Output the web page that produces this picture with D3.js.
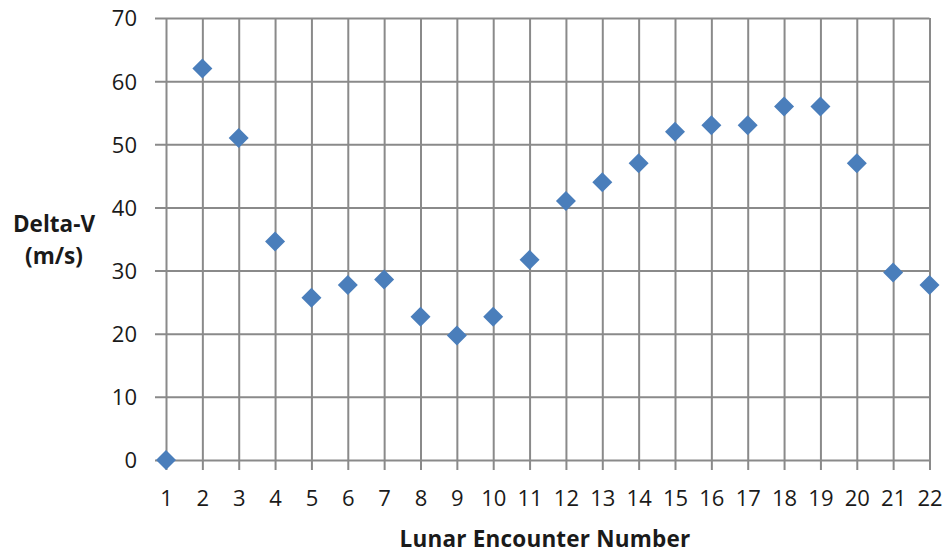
<!DOCTYPE html>
<html>
<head>
<meta charset="utf-8">
<script src="https://cdn.jsdelivr.net/npm/d3@7"></script>
<style>
  html, body { margin: 0; padding: 0; background: #fff; }
  svg { display: block; }
  text { font-family: "Open Sans", "Liberation Sans", sans-serif; fill: #1a1a1a; }
</style>
</head>
<body>
<svg id="chart" width="951" height="553"></svg>
<script>
// Data
const encounters = [1,2,3,4,5,6,7,8,9,10,11,12,13,14,15,16,17,18,19,20,21,22];
const deltaV = [0,62,51,34.6,25.7,27.7,28.6,22.7,19.7,22.7,31.7,41,44,47,52,53,53,56,56,47,29.7,27.7];
const xTicks = [1,2,3,4,5,6,7,8,9,10,11,12,13,14,15,16,17,18,19,20,21,22];
const yTicks = [0,10,20,30,40,50,60,70];
const xTitle = "Lunar Encounter Number";
const yTitleLines = ["Delta-V", "(m/s)"];

const svg = d3.select("#chart");
const x = d3.scaleLinear().domain([1, 22]).range([166, 929.5]);
const y = d3.scaleLinear().domain([0, 70]).range([460, 18]);
const gridColor = "#8a8a8a";

// Vertical gridlines + x axis ticks
const xAxis = d3.axisBottom(x).tickValues(xTicks).tickFormat(d3.format("d"))
  .tickSize(0).tickSizeOuter(0).tickPadding(0);
const gx = svg.append("g").attr("transform", "translate(0,460)").call(xAxis);
gx.select(".domain").remove();
gx.selectAll(".tick line").attr("y1", 10).attr("y2", -(460 - 18))
  .attr("stroke", gridColor).attr("stroke-width", 2);
gx.selectAll(".tick text").attr("y", 46).attr("dy", 0)
  .style("font-size", "22px").style("font-family", "'Open Sans', sans-serif").attr("fill", "#1a1a1a");

// Horizontal gridlines + y axis ticks
const yAxis = d3.axisLeft(y).tickValues(yTicks).tickSize(0).tickPadding(0);
const gy = svg.append("g").attr("transform", "translate(166,0)").call(yAxis);
gy.select(".domain").remove();
gy.selectAll(".tick line").attr("x1", -11).attr("x2", 929.5 - 166)
  .attr("stroke", gridColor).attr("stroke-width", 2);
gy.selectAll(".tick text").attr("x", -29).attr("dy", "0.36em")
  .style("font-size", "22px").style("font-family", "'Open Sans', sans-serif").attr("fill", "#1a1a1a");

// Points (diamonds)
const diamond = d3.symbol().type(d3.symbolSquare).size(200);
svg.append("g").selectAll("path")
  .data(encounters.map((e, i) => ({ e, v: deltaV[i] })))
  .join("path")
  .attr("d", diamond)
  .attr("transform", d => `translate(${x(d.e)},${y(d.v)}) rotate(45)`)
  .attr("fill", "#4a7ebb");

// Axis titles
svg.append("text").attr("x", 545).attr("y", 547).attr("text-anchor", "middle")
  .style("font-size", "22.5px").style("font-weight", "bold").style("letter-spacing", "0.2px").text(xTitle);
svg.selectAll(".ytitle").data(yTitleLines).join("text")
  .attr("class", "ytitle")
  .attr("x", 54).attr("y", (d, i) => 232 + i * 32).attr("text-anchor", "middle")
  .style("font-size", "22.5px").style("font-weight", "bold").text(d => d);
</script>
</body>
</html>
